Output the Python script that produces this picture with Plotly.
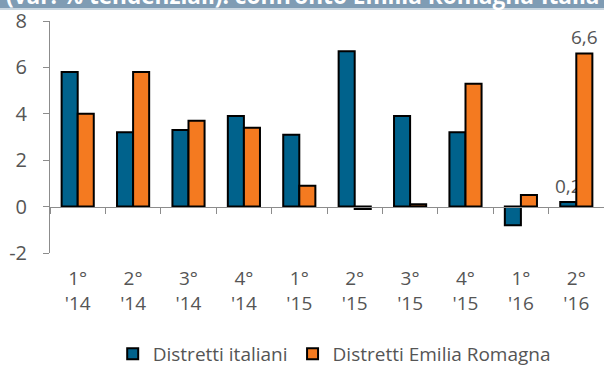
import plotly.graph_objects as go

categories = ["1°<br>'14", "2°<br>'14", "3°<br>'14", "4°<br>'14", "1°<br>'15",
              "2°<br>'15", "3°<br>'15", "4°<br>'15", "1°<br>'16", "2°<br>'16"]
italia = [5.8, 3.2, 3.3, 3.9, 3.1, 6.7, 3.9, 3.2, -0.8, 0.2]
emilia = [4.0, 5.8, 3.7, 3.4, 0.9, -0.1, 0.1, 5.3, 0.5, 6.6]
italia_labels = ["", "", "", "", "", "", "", "", "", "0,2"]
emilia_labels = ["", "", "", "", "", "", "", "", "", "6,6"]
y_ticks = [-2, 0, 2, 4, 6, 8]
y_ticktext = ["-2", "0", "2", "4", "6", "8"]
title_text = "(var. % tendenziali): confronto Emilia Romagna-Italia"
series_names = ["Distretti italiani", "Distretti Emilia Romagna"]

BLUE = "#00628c"
ORANGE = "#f47a20"
GRAY = "#555555"
AXIS = "#8c8c8c"
FONT = "Open Sans"

xs = list(range(len(categories)))

fig = go.Figure()
for vals, labels, col, name in [(italia, italia_labels, BLUE, series_names[0]),
                                (emilia, emilia_labels, ORANGE, series_names[1])]:
    fig.add_trace(go.Bar(
        x=xs, y=vals, name=name, showlegend=False,
        marker=dict(color=col, line=dict(color="black", width=2)),
        text=labels, textposition="outside", cliponaxis=False,
        constraintext="none",
        textfont=dict(size=19, color=GRAY, family=FONT),
    ))

# legend entries with small square symbols
for col, name in [(BLUE, series_names[0]), (ORANGE, series_names[1])]:
    fig.add_trace(go.Scatter(
        x=[None], y=[None], mode="markers", name=name,
        marker=dict(symbol="square", size=11, color=col, line=dict(color="black", width=2)),
    ))

ymin, ymax = -2, 8
zero_pos = (0 - ymin) / (ymax - ymin)

fig.update_layout(
    width=604, height=367,
    margin=dict(l=49.5, r=0, t=21, b=114, autoexpand=False),
    paper_bgcolor="white", plot_bgcolor="white",
    barmode="group", bargap=0.42, bargroupgap=0,
    font=dict(family=FONT, color=GRAY, size=17),
    showlegend=True,
    legend=dict(orientation="h", x=0.513, xanchor="center", y=-0.435, yanchor="middle",
                font=dict(size=19, color=GRAY, family=FONT),
                itemwidth=30, traceorder="normal", tracegroupgap=0,
                borderwidth=0, bgcolor="rgba(0,0,0,0)"),
    xaxis=dict(
        range=[-0.5, len(categories) - 0.5], automargin=False,
        tickmode="array", tickvals=xs, ticktext=categories,
        showline=False, ticks="", showgrid=False, zeroline=False,
        tickfont=dict(size=19, color=GRAY, family=FONT),
        ticklabelstandoff=12,
    ),
    xaxis2=dict(
        overlaying="x", anchor="free", position=zero_pos, side="bottom",
        range=[-0.5, len(categories) - 0.5], automargin=False,
        tickmode="array", tickvals=[i - 0.5 for i in range(len(categories) + 1)],
        showticklabels=False, showline=True, linecolor=AXIS, linewidth=1,
        ticks="outside", ticklen=6, tickcolor=AXIS, tickwidth=1,
        showgrid=False, zeroline=False,
    ),
    yaxis=dict(
        range=[ymin, ymax], tickmode="array", tickvals=y_ticks, ticktext=y_ticktext,
        showline=True, linecolor=AXIS, linewidth=1, automargin=False,
        ticks="outside", ticklen=6, tickcolor=AXIS, tickwidth=1,
        showgrid=False, zeroline=False,
        tickfont=dict(size=20, color=GRAY, family=FONT),
        ticklabelstandoff=12,
    ),
)

# invisible trace to activate xaxis2
fig.add_trace(go.Scatter(x=[xs[0]], y=[0], xaxis="x2", yaxis="y", mode="markers",
                         marker=dict(opacity=0), showlegend=False, hoverinfo="skip"))

# header band
fig.add_shape(type="rect", xref="paper", yref="paper",
              x0=-0.1, x1=1.01, y0=(253 - 8) / 232, y1=1.2,
              fillcolor="#7f9cb4", line=dict(width=0), layer="above")
fig.add_shape(type="line", xref="paper", yref="paper",
              x0=-0.1, x1=1.01, y0=(253 - 9) / 232, y1=(253 - 9) / 232,
              line=dict(color="#c9d6e0", width=2))
fig.add_annotation(text="<b>" + title_text + "</b>", xref="paper", yref="paper",
                   x=(4 - 49.5) / 555, y=(253 - 12) / 232, xanchor="left", yanchor="bottom",
                   showarrow=False, borderpad=0,
                   font=dict(size=22.6, color="white", family=FONT))

fig.write_html("out.html")
